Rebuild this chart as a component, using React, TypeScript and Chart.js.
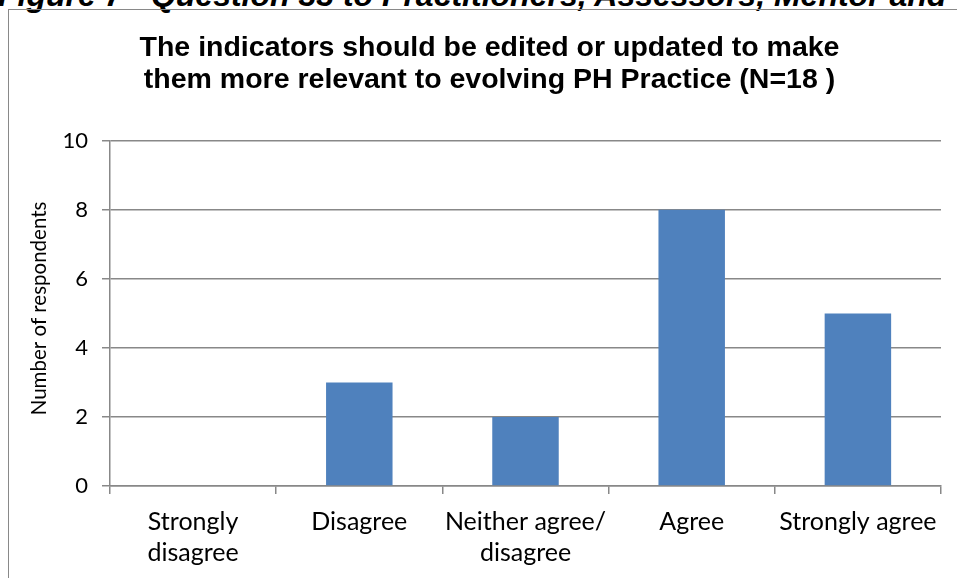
import React, { useEffect, useRef } from "react";
import { Chart, registerables } from "chart.js";

Chart.register(...registerables);

const categories: (string | string[])[] = [
  ["Strongly", "disagree"],
  "Disagree",
  ["Neither agree/", "disagree"],
  "Agree",
  "Strongly agree",
];
const respondents: number[] = [0, 3, 2, 8, 5];
const titleLines: string[] = [
  "The indicators should be edited or updated to make",
  "them more relevant to evolving PH Practice (N=18 )",
];
const yAxisTitle = "Number of respondents";
const figureHeading = "Figure 7 - Question 33 to Practitioners, Assessors, Mentor and";
const yMin = 0;
const yMax = 10;
const yStep = 2;

const LABEL_FONT = "Lato, 'Noto Sans', sans-serif";

export default function App() {
  const canvasRef = useRef<HTMLCanvasElement | null>(null);

  useEffect(() => {
    const canvas = canvasRef.current;
    if (!canvas) return;

    const yTitlePlugin = {
      id: "yTitlePlugin",
      afterDraw(chart: any) {
        const { ctx, chartArea } = chart;
        ctx.save();
        ctx.font = `20.5px ${LABEL_FONT}`;
        ctx.fillStyle = "#000";
        ctx.textAlign = "center";
        ctx.textBaseline = "middle";
        ctx.translate(39, (chartArea.top + chartArea.bottom) / 2 - 5);
        ctx.rotate(-Math.PI / 2);
        ctx.fillText(yAxisTitle, 0, 0);
        ctx.restore();
      },
    };

    const chart = new Chart(canvas, {
      type: "bar",
      data: {
        labels: categories,
        datasets: [
          {
            data: respondents,
            backgroundColor: "#4F81BD",
            borderWidth: 0,
            categoryPercentage: 1,
            barPercentage: 0.4,
          },
        ],
      },
      options: {
        animation: false,
        responsive: false,
        maintainAspectRatio: false,
        layout: { padding: { left: 38, right: 16, top: 0, bottom: 0 } },
        plugins: {
          legend: { display: false },
          tooltip: { enabled: false },
          title: {
            display: true,
            text: titleLines,
            color: "#000",
            font: { family: "'Liberation Sans', Arial, sans-serif", size: 28.5, weight: "bold", lineHeight: 1.12 },
            padding: { top: 32, bottom: 45 },
          },
        },
        scales: {
          x: {
            offset: true,
            afterFit: (scale: any) => {
              scale.height = 92;
            },
            grid: {
              offset: true,
              drawOnChartArea: false,
              drawTicks: true,
              tickLength: 8,
              color: "#888888",
              lineWidth: 1.5,
            },
            border: { display: true, color: "#888888", width: 1.5 },
            ticks: {
              color: "#000",
              font: { family: LABEL_FONT, size: 25, lineHeight: 1.24 },
              padding: 12,
              maxRotation: 0,
              autoSkip: false,
            },
          },
          y: {
            min: yMin,
            max: yMax,
            afterFit: (scale: any) => {
              scale.width = 72;
            },
            grid: {
              color: "#888888",
              lineWidth: 1.5,
              drawTicks: true,
              tickLength: 8,
            },
            border: { display: true, color: "#888888", width: 1.5 },
            ticks: {
              stepSize: yStep,
              color: "#000",
              font: { family: LABEL_FONT, size: 22 },
              padding: 14,
            },
          },
        },
      },
      plugins: [yTitlePlugin],
    });

    return () => chart.destroy();
  }, []);

  return (
    <div
      style={{
        position: "absolute",
        left: 0,
        top: 0,
        width: 957,
        height: 578,
        overflow: "hidden",
        background: "#fff",
      }}
    >
      <div
        style={{
          position: "absolute",
          left: -2,
          top: -16,
          whiteSpace: "nowrap",
          font: "italic bold 32px 'Liberation Sans', Arial, sans-serif",
          lineHeight: "22px",
          color: "#000",
        }}
      >
        {figureHeading}
      </div>
      <div
        style={{
          position: "absolute",
          left: 8,
          top: 9,
          width: 1000,
          height: 620,
          border: "1.5px solid #898989",
        }}
      />
      <canvas
        ref={canvasRef}
        width={957}
        height={578}
        style={{ position: "absolute", left: 0, top: 0, width: 957, height: 578 }}
      />
    </div>
  );
}
